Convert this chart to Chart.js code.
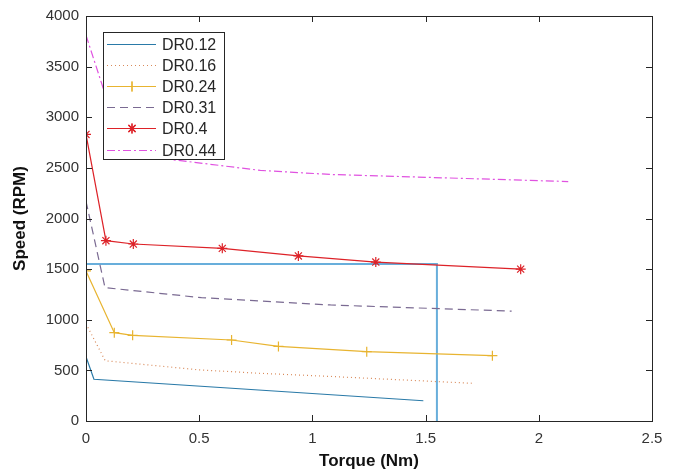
<!DOCTYPE html>
<html>
<head>
<meta charset="utf-8">
<script src="https://cdn.jsdelivr.net/npm/chart.js@4/dist/chart.umd.min.js"></script>
<style>
  html, body { margin: 0; padding: 0; background: #fff; }
  #wrap { width: 681px; height: 473px; }
</style>
</head>
<body>
<div id="wrap"><canvas class="chart"></canvas></div>
<script>
// values (torque Nm, speed RPM)
const dr012 = [[0, 635], [0.035, 412], [1.49, 200]];
const dr016 = [[0, 960], [0.085, 595], [0.5, 505], [0.77, 471], [1.08, 440], [1.71, 372]];
const dr024 = [[0, 1482], [0.125, 872], [0.206, 846], [0.643, 800], [0.85, 737], [1.24, 685], [1.795, 645]];
const dr031 = [[0, 2170], [0.084, 1317], [0.51, 1218], [1.08, 1146], [1.88, 1085]];
const dr04 = [[0, 2830], [0.088, 1781], [0.209, 1748], [0.602, 1705], [0.938, 1630], [1.28, 1570], [1.92, 1500]];
const dr044 = [[0, 3810], [0.069, 3334], [0.16, 2700], [0.35, 2590], [0.77, 2475], [1.08, 2435], [2.13, 2365]];
// operating point marker lines (not in legend)
const opLine = [[0, 1550], [1.55, 1550], [1.55, 0]];

const xTicks = [0, 0.5, 1, 1.5, 2, 2.5];
const yTicks = [0, 500, 1000, 1500, 2000, 2500, 3000, 3500, 4000];

const toXY = arr => arr.map(p => ({x: p[0], y: p[1]}));

const FONT = 'Liberation Sans, Arial, sans-serif';

function series(label, pts, color, opts) {
  return Object.assign({
    label: label,
    data: toXY(pts),
    borderColor: color,
    backgroundColor: color,
    borderWidth: 1.2,
    pointRadius: 0,
    fill: false,
    tension: 0
  }, opts || {});
}

const datasets = [
  series('DR0.12', dr012, '#2a7aa8'),
  series('DR0.16', dr016, '#d98a5a', {borderDash: [1, 3]}),
  series('DR0.24', dr024, '#e8b430', {pointStyle: 'cross', pointRadius: 5, pointBorderWidth: 1.2}),
  series('DR0.31', dr031, '#7a6a92', {borderDash: [8, 5]}),
  series('DR0.4', dr04, '#dd2228', {pointStyle: 'star', pointRadius: 5, pointBorderWidth: 1.2}),
  series('DR0.44', dr044, '#e052e0', {borderDash: [8, 3, 2, 3]}),
  series('', opLine, '#68aedb', {borderWidth: 2, noLegend: true})
];

// box, inner ticks, and matlab-style legend
const framePlugin = {
  id: 'frame',
  afterDraw(chart) {
    const ctx = chart.ctx;
    const a = chart.chartArea;
    const xs = chart.scales.x, ys = chart.scales.y;
    ctx.save();
    ctx.strokeStyle = '#262626';
    ctx.lineWidth = 1;
    ctx.strokeRect(Math.round(a.left) + 0.5, Math.round(a.top) + 0.5,
      Math.round(a.right - a.left), Math.round(a.bottom - a.top));
    ctx.beginPath();
    xTicks.forEach(v => {
      const px = Math.round(xs.getPixelForValue(v)) + 0.5;
      ctx.moveTo(px, a.bottom); ctx.lineTo(px, a.bottom - 6);
      ctx.moveTo(px, a.top); ctx.lineTo(px, a.top + 6);
    });
    yTicks.forEach(v => {
      const py = Math.round(ys.getPixelForValue(v)) + 0.5;
      ctx.moveTo(a.left, py); ctx.lineTo(a.left + 6, py);
      ctx.moveTo(a.right, py); ctx.lineTo(a.right - 6, py);
    });
    ctx.stroke();

    // legend
    const items = chart.data.datasets.filter(d => !d.noLegend);
    const lx = 103, ly = 32, lw = 121, rowH = 21.1;
    const lh = 127;
    ctx.fillStyle = '#fff';
    ctx.fillRect(lx, ly, lw, lh);
    ctx.strokeStyle = '#262626';
    ctx.strokeRect(lx + 0.5, ly + 0.5, lw, lh);
    ctx.font = '16px ' + FONT;
    ctx.textBaseline = 'middle';
    items.forEach((d, i) => {
      const y = Math.round(ly + 12 + i * rowH) + 0.5;
      ctx.strokeStyle = d.borderColor;
      ctx.lineWidth = 1.2;
      ctx.setLineDash(d.borderDash || []);
      ctx.beginPath();
      ctx.moveTo(lx + 4, y); ctx.lineTo(lx + 53, y);
      ctx.stroke();
      ctx.setLineDash([]);
      if (d.pointRadius > 0) {
        Chart.helpers.drawPoint(ctx, {pointStyle: d.pointStyle, radius: d.pointRadius, borderWidth: 1.2, rotation: 0}, lx + 29, y);
        ctx.stroke();
      }
      ctx.fillStyle = '#262626';
      ctx.fillText(d.label, lx + 59, y + 1);
    });
    ctx.restore();
  }
};

const canvas = document.querySelector('.chart');
new Chart(canvas, {
  type: 'line',
  data: {datasets: datasets},
  options: {
    responsive: true,
    maintainAspectRatio: false,
    animation: false,
    layout: {padding: {top: 16, right: 29, left: 0, bottom: 0}},
    plugins: {legend: {display: false}, tooltip: {enabled: false}},
    scales: {
      x: {
        type: 'linear', min: 0, max: 2.5,
        afterBuildTicks: s => { s.ticks = xTicks.map(v => ({value: v})); },
        afterFit: s => { s.height = 52; },
        grid: {display: false, drawTicks: false},
        border: {display: false},
        ticks: {color: '#333', font: {family: FONT, size: 15}, padding: 9,
          callback: v => String(v)},
        title: {display: true, text: 'Torque (Nm)', color: '#111',
          font: {family: FONT, size: 17, weight: 'bold'}, padding: {top: 0, bottom: 1}}
      },
      y: {
        type: 'linear', min: 0, max: 4000,
        afterBuildTicks: s => { s.ticks = yTicks.map(v => ({value: v})); },
        afterFit: s => { s.width = 86; },
        grid: {display: false, drawTicks: false},
        border: {display: false},
        ticks: {color: '#333', font: {family: FONT, size: 15}, padding: 7,
          callback: v => String(v)},
        title: {display: true, text: 'Speed (RPM)', color: '#111',
          font: {family: FONT, size: 17, weight: 'bold'}, padding: {top: 10, bottom: 0}}
      }
    }
  },
  plugins: [framePlugin]
});
</script>
</body>
</html>
